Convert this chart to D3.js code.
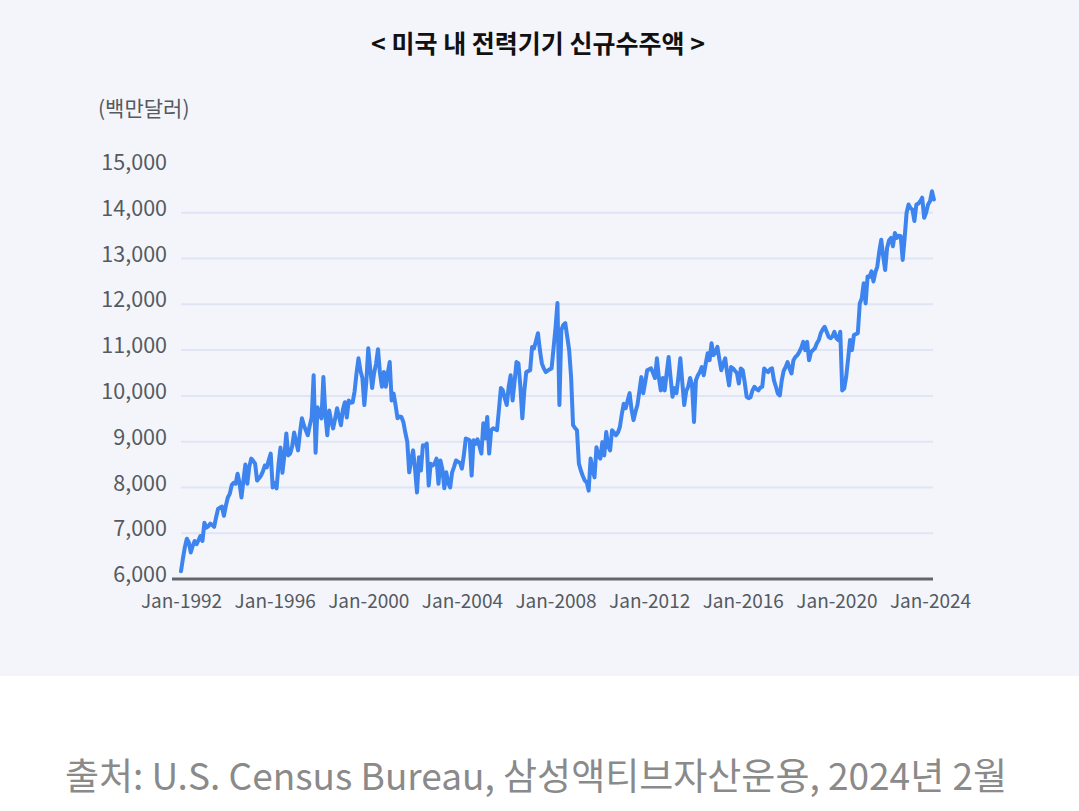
<!DOCTYPE html>
<html>
<head>
<meta charset="utf-8">
<script src="https://cdn.jsdelivr.net/npm/d3@7"></script>
<style>
  body { margin: 0; background: #fff; }
  svg { display: block; font-family: "Noto Sans CJK KR", "Noto Sans", sans-serif; }
</style>
</head>
<body>
<div id="chart"></div>
<script>
// data: monthly new orders (million USD), Jan-1992 onwards
var startYear = 1992;
var orders = [
  6170, 6450, 6700, 6880, 6800, 6580, 6720, 6830, 6760, 6850, 6940, 6830,        // 1992
  7230, 7120, 7150, 7210, 7180, 7140, 7350, 7530, 7560, 7580, 7380, 7600,        // 1993
  7780, 7860, 8050, 8100, 8080, 8300, 8100, 7780, 8150, 8500, 8080, 8450,        // 1994
  8630, 8580, 8520, 8150, 8200, 8260, 8350, 8480, 8440, 8600, 8740, 8000,        // 1995
  8100, 7980, 8500, 8870, 8320, 8700, 9180, 8700, 8740, 8900, 9200, 9000,        // 1996
  8810, 9200, 9510, 9360, 9250, 9140, 9350, 9530, 10450, 8760, 9750, 9600,       // 1997
  9510, 10410, 9600, 9140, 9680, 9450, 9290, 9500, 9730, 9550, 9360, 9700,      // 1998
  9860, 9530, 9900, 9850, 9860, 10100, 10500, 10820, 10550, 10390, 9800, 10300,  // 1999
  11040, 10600, 10170, 10500, 10700, 11020, 10500, 10200, 10520, 10200, 10500, 10740, // 2000
  9900, 10050, 9800, 9510, 9550, 9540, 9430, 9200, 9000, 8330, 8600, 8810,       // 2001
  8400, 7890, 8660, 8370, 8920, 8900, 8960, 8040, 8520, 8480, 8520, 8630,        // 2002
  8080, 8590, 8400, 7980, 8330, 8100, 8000, 8330, 8450, 8590, 8560, 8540,        // 2003
  8410, 8700, 9070, 9050, 9030, 8260, 9030, 8950, 9050, 8900, 8740, 9400,        // 2004
  9070, 9540, 8740, 9250, 9290, 9270, 9250, 9700, 10170, 10120, 9950, 9800,      // 2005
  10200, 10450, 9900, 10300, 10740, 10710, 10200, 9510, 10100, 10520, 10540, 10560, // 2006
  11070, 11040, 11200, 11370, 11000, 10710, 10600, 10520, 10550, 10580, 10600, 11040, // 2007
  11480, 12030, 9800, 11440, 11550, 11590, 11300, 11000, 10410, 9360, 9300, 9250, // 2008
  8520, 8370, 8250, 8150, 8110, 7930, 8630, 8400, 8220, 8880, 8700, 8630,        // 2009
  8990, 8700, 9210, 8900, 8810, 9250, 9200, 9140, 9200, 9320, 9600, 9830,        // 2010
  9730, 9900, 10060, 9700, 9470, 9650, 9800, 10100, 10410, 10060, 10300, 10560,  // 2011
  10580, 10600, 10500, 10390, 10820, 10400, 10120, 10390, 10120, 10500, 10850, 10400, // 2012
  9980, 10170, 10060, 10400, 10820, 10300, 9800, 10100, 10200, 10390, 10250, 9430, // 2013
  10340, 10450, 10520, 10630, 10450, 10700, 10930, 10780, 11150, 10890, 10950, 11070, // 2014
  10800, 10560, 10700, 10820, 10500, 10230, 10630, 10600, 10550, 10500, 10270, 10600, // 2015
  10560, 10300, 9980, 9950, 9970, 10120, 10200, 10150, 10120, 10180, 10200, 10600, // 2016
  10550, 10520, 10580, 10600, 10340, 10200, 10050, 10010, 10340, 10550, 10630, 10740, // 2017
  10600, 10490, 10780, 10850, 10890, 10960, 11050, 11180, 11000, 11180, 10780, 10960, // 2018
  11000, 11040, 11150, 11220, 11370, 11450, 11510, 11400, 11290, 11260, 11300, 11400, // 2019
  11260, 11220, 11400, 10120, 10160, 10410, 10800, 11220, 11000, 11330, 11350, 11370, // 2020
  12020, 12130, 12460, 12020, 12610, 12600, 12720, 12500, 12700, 12830, 13160, 13410, // 2021
  13050, 12750, 13230, 13400, 13450, 13270, 13560, 13450, 13500, 13490, 12970, 13450, // 2022
  14000, 14180, 14100, 14070, 13820, 14180, 14200, 14250, 14330, 13890, 14000, 14180, // 2023
  14250, 14470, 14290                                                            // 2024
];

var yTicks = [6000, 7000, 8000, 9000, 10000, 11000, 12000, 13000, 14000, 15000];
var xTickYears = [1992, 1996, 2000, 2004, 2008, 2012, 2016, 2020, 2024];

var titleText = "< 미국 내 전력기기 신규수주액 >";
var unitText = "(백만달러)";
var sourceText = "출처: U.S. Census Bureau, 삼성액티브자산운용, 2024년 2월";

drawChart();

function drawChart() {
    var width = 1079, height = 811;
    var margin = {top: 167, right: 146, bottom: 232, left: 181};

    var svg = d3.select("#chart")
        .append("svg")
        .attr("width", width)
        .attr("height", height);

    // panel background
    svg.append("rect")
        .attr("x", 0).attr("y", 0)
        .attr("width", width).attr("height", 676)
        .attr("fill", "#f3f5fb");

    var data = orders.map((v, i) => ({m: i, value: v}));

    var x = d3.scaleLinear()
        .domain([0, (2024 - startYear) * 12])
        .range([margin.left, width - margin.right - 3]);

    var y = d3.scaleLinear()
        .domain([6000, 15000])
        .range([579, margin.top]);

    // grid lines (no line at the top tick)
    svg.append("g")
        .selectAll("line")
        .data(yTicks.filter(d => d > 6000 && d < 15000))
        .join("line")
        .attr("x1", x(0))
        .attr("x2", 933)
        .attr("y1", d => y(d))
        .attr("y2", d => y(d))
        .attr("stroke", "#dfe5f5")
        .attr("stroke-width", 2);

    // y axis labels
    var yAxis = g => g
        .attr("transform", `translate(${margin.left - 14},0)`)
        .call(d3.axisLeft(y).tickValues(yTicks).tickSize(0).tickPadding(0).tickFormat(d3.format(",")))
        .call(g => g.select(".domain").remove())
        .call(g => g.selectAll("text")
            .attr("dy", "0.12em")
            .attr("font-size", 21.5)
            .attr("fill", "#555a60")
            .attr("font-family", "\"Noto Sans CJK KR\", sans-serif"));
    svg.append("g").call(yAxis);

    // x axis labels
    var xAxis = g => g
        .attr("transform", `translate(0,${594})`)
        .call(d3.axisBottom(x)
            .tickValues(xTickYears.map(yr => (yr - startYear) * 12))
            .tickSize(0).tickPadding(0)
            .tickFormat(d => "Jan-" + (startYear + d / 12)))
        .call(g => g.select(".domain").remove())
        .call(g => g.selectAll("text")
            .attr("font-size", 19)
            .attr("fill", "#555a60")
            .attr("font-family", "\"Noto Sans CJK KR\", sans-serif"));
    svg.append("g").call(xAxis);

    // baseline
    svg.append("line")
        .attr("x1", 172)
        .attr("x2", 933)
        .attr("y1", y(6000))
        .attr("y2", y(6000))
        .attr("stroke", "#62666c")
        .attr("stroke-width", 3);

    var line = d3.line()
        .x(d => x(d.m))
        .y(d => y(d.value));

    svg.append("path")
        .datum(data)
        .attr("d", line)
        .attr("fill", "none")
        .attr("stroke", "#3d84ee")
        .attr("stroke-width", 4)
        .attr("stroke-linejoin", "round")
        .attr("stroke-linecap", "round");

    svg.append("text")
        .attr("x", 538)
        .attr("y", 53)
        .attr("text-anchor", "middle")
        .attr("font-size", 25)
        .attr("font-weight", "bold")
        .attr("fill", "#111")
        .text(titleText);

    svg.append("text")
        .attr("x", 98)
        .attr("y", 116)
        .attr("font-size", 21)
        .attr("fill", "#555a60")
        .text(unitText);

    svg.append("text")
        .attr("x", 536)
        .attr("y", 790)
        .attr("text-anchor", "middle")
        .attr("font-size", 37)
        .attr("fill", "#8a8a8a")
        .text(sourceText);
}
</script>
</body>
</html>
